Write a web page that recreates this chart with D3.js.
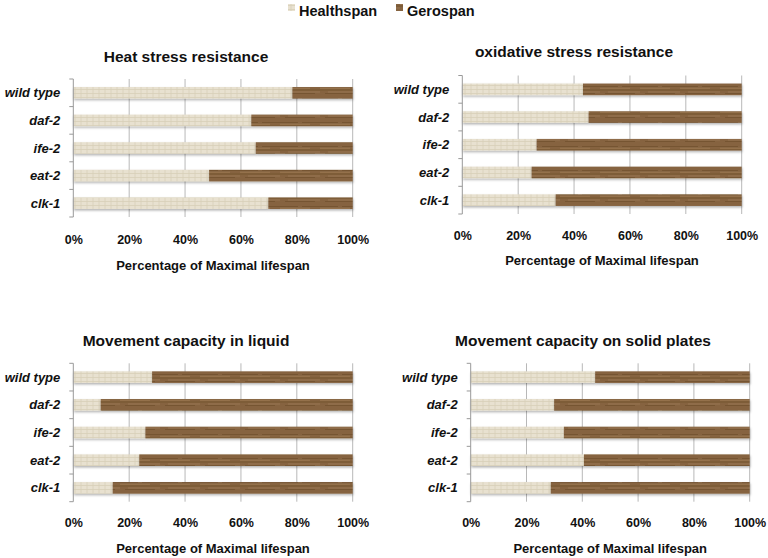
<!DOCTYPE html>
<html><head><meta charset="utf-8">
<script src="https://cdn.jsdelivr.net/npm/d3@7"></script>
<style>body{margin:0;background:#fff}svg{display:block}text{font-family:"Liberation Sans",Arial,sans-serif;font-weight:bold;fill:#111}</style>
</head><body>
<script>
const categories = ["wild type","daf-2","ife-2","eat-2","clk-1"];
const seriesNames = ["Healthspan","Gerospan"];
const titles = ["Heat stress resistance","oxidative stress resistance","Movement capacity in liquid","Movement capacity on solid plates"];
const heatHealth = [78.4, 63.7, 65.3, 48.6, 69.8];
const oxidHealth = [43.2, 45.2, 26.6, 24.8, 33.4];
const liquidHealth = [28.2, 9.8, 25.8, 23.6, 14.1];
const solidHealth = [44.6, 29.9, 33.4, 40.6, 28.7];
const xTicks = [0,20,40,60,80,100];
const xTitle = "Percentage of Maximal lifespan";

const W=768,H=558;
const svg=d3.select("body").append("svg").attr("width",W).attr("height",H);
const defs=svg.append("defs");
// textures
const p1=defs.append("pattern").attr("id","texH").attr("patternUnits","userSpaceOnUse").attr("width",6).attr("height",4);
p1.append("rect").attr("width",6).attr("height",4).attr("fill","#e8e1d0");
p1.append("path").attr("d","M0,1.5H6M3,0V4").attr("stroke","#d8cfb9").attr("stroke-width",0.8);
const p2=defs.append("pattern").attr("id","texG").attr("patternUnits","userSpaceOnUse").attr("width",40).attr("height",12);
p2.append("rect").attr("width",40).attr("height",12).attr("fill","#866441");
p2.append("path").attr("d","M0,2.5H18M22,2.5H40M0,6H40M5,9.5H35").attr("stroke","#74542f").attr("stroke-width",0.9);
p2.append("path").attr("d","M0,4.3H30M8,8H40").attr("stroke","#9a7852").attr("stroke-width",0.8);
const f=defs.append("filter").attr("id","sh").attr("x","-5%").attr("y","-30%").attr("width","110%").attr("height","190%");
f.append("feDropShadow").attr("dx",0.5).attr("dy",1.5).attr("stdDeviation",1).attr("flood-color","#000").attr("flood-opacity",0.3);

const fills=["url(#texH)","url(#texG)"];

const panels=[
 {data:heatHealth, x0:73.3,x1:352.7,y0:79,y1:217,tx:186,ty:57,tickY:240,axY:265},
 {data:oxidHealth, x0:462.3,x1:741.7,y0:75.5,y1:214,tx:574,ty:52,tickY:236,axY:260},
 {data:liquidHealth, x0:73.3,x1:352.7,y0:363.3,y1:501.7,tx:186,ty:341,tickY:522.7,axY:548},
 {data:solidHealth, x0:470.7,x1:749.7,y0:363.3,y1:501.7,tx:583,ty:341,tickY:522.7,axY:548}
];

panels.forEach((p,i)=>{
  const g=svg.append("g");
  const x=d3.scaleLinear().domain([0,100]).range([p.x0,p.x1]);
  const y=d3.scaleBand().domain(categories).range([p.y0,p.y1]).paddingInner(0.58).paddingOuter(0.29);
  // gridlines
  g.append("g").selectAll("line").data(xTicks.slice(1)).join("line")
    .attr("x1",d=>x(d)).attr("x2",d=>x(d)).attr("y1",p.y0).attr("y2",p.y1)
    .attr("stroke","#b8b8b8").attr("stroke-width",1);
  // stacked bars
  const rows=categories.map((c,k)=>({cat:c,vals:[p.data[k],100-p.data[k]]}));
  const stackData=rows.map(r=>({cat:r.cat,Healthspan:r.vals[0],Gerospan:r.vals[1]}));
  const stacked=d3.stack().keys(seriesNames)(stackData);
  stacked.forEach((s,si)=>{
    g.append("g").attr("filter","url(#sh)").selectAll("rect").data(s).join("rect")
      .attr("x",d=>x(d[0])).attr("width",d=>x(d[1])-x(d[0]))
      .attr("y",d=>y(d.data.cat)).attr("height",y.bandwidth())
      .attr("fill",fills[si]);
  });
  // left axis
  const ax=d3.axisLeft(y).tickSize(0).tickPadding(13);
  const ag=g.append("g").attr("transform",`translate(${p.x0},0)`).call(ax);
  ag.select(".domain").attr("stroke","#999");
  ag.selectAll("text").attr("font-size",13).attr("font-style","italic").attr("dy","0.35em").attr("font-family",'"Liberation Sans",Arial,sans-serif').attr("font-weight","bold");
  // boundary ticks
  const bounds=categories.map(c=>y(c)-y.step()*y.paddingInner()/2).concat([p.y1]);
  g.append("g").selectAll("line").data(bounds).join("line")
    .attr("x1",p.x0-4).attr("x2",p.x0).attr("y1",d=>d).attr("y2",d=>d).attr("stroke","#999");
  ag.select(".domain").attr("d",`M0,${p.y0}V${p.y1}`);
  // bottom tick labels
  const bx=d3.axisBottom(x).tickValues(xTicks).tickFormat(d=>d+"%").tickSize(0).tickPadding(0);
  const bg=g.append("g").attr("transform",`translate(0,${p.tickY})`).call(bx);
  bg.select(".domain").remove();
  bg.selectAll("text").attr("font-size",12.5).attr("dy","0.35em").attr("y",0).attr("font-family",'"Liberation Sans",Arial,sans-serif').attr("font-weight","bold");
  // axis title
  g.append("text").attr("x",(p.x0+p.x1)/2).attr("y",p.axY).attr("dy","0.35em").attr("text-anchor","middle").attr("font-size",13).text(xTitle);
  // title
  g.append("text").attr("x",p.tx).attr("y",p.ty).attr("dy","0.35em").attr("text-anchor","middle").attr("font-size",15.5).text(titles[i]);
});

// legend
const legX=[288,396];
const lg=svg.append("g");
seriesNames.forEach((s,i)=>{
  lg.append("rect").attr("x",legX[i]).attr("y",4).attr("width",7).attr("height",7).attr("fill",fills[i]);
  lg.append("text").attr("x",legX[i]+11).attr("y",11).attr("dy","0.35em").attr("font-size",14.5).text(s);
});
</script>
</body></html>
